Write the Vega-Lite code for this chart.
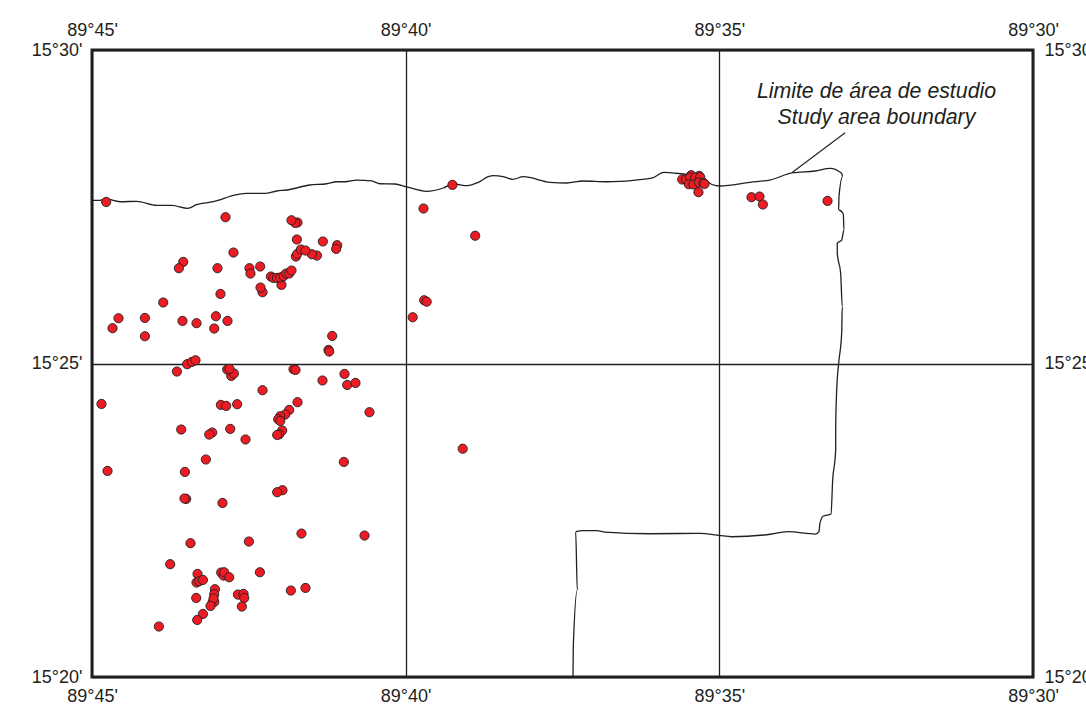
{
"$schema":"https://vega.github.io/schema/vega-lite/v6.json",
"width":941,"height":627,
"autosize":{"type":"none"},
"padding":{"left":92,"top":50,"right":53,"bottom":34},
"background":"white",
"config":{"view":{"stroke":"#231f20","strokeWidth":3,"fill":"white"},
"axis":{"title":null,"domain":false,"ticks":false,"labelFont":"Liberation Sans","labelFontSize":18,"labelColor":"#231f20","labelOverlap":false,"labelFlush":false,"labelBound":false,"grid":false}},
"datasets":{
"boundary":[
{"s":1,"lon":44.997,"lat":27.611},{"s":2,"lon":44.88,"lat":27.611},{"s":3,"lon":44.801,"lat":27.636},{"s":4,"lon":44.562,"lat":27.588},{"s":5,"lon":44.295,"lat":27.595},{"s":6,"lon":43.977,"lat":27.531},{"s":7,"lon":43.738,"lat":27.531},{"s":8,"lon":43.483,"lat":27.483},{"s":9,"lon":43.339,"lat":27.541},{"s":10,"lon":43.074,"lat":27.588},{"s":11,"lon":42.701,"lat":27.7},{"s":12,"lon":42.542,"lat":27.722},{"s":13,"lon":42.25,"lat":27.722},{"s":14,"lon":42.064,"lat":27.759},{"s":15,"lon":41.905,"lat":27.775},{"s":16,"lon":41.533,"lat":27.855},{"s":17,"lon":41.267,"lat":27.875},{"s":18,"lon":41.107,"lat":27.907},{"s":19,"lon":40.975,"lat":27.907},{"s":20,"lon":40.789,"lat":27.934},{"s":21,"lon":40.55,"lat":27.919},{"s":22,"lon":40.417,"lat":27.875},{"s":23,"lon":40.178,"lat":27.871},{"s":24,"lon":40.003,"lat":27.828},{"s":25,"lon":39.673,"lat":27.754},{"s":26,"lon":39.408,"lat":27.807},{"s":27,"lon":39.249,"lat":27.871},{"s":28,"lon":39.026,"lat":27.844},{"s":29,"lon":38.85,"lat":27.898},{"s":30,"lon":38.691,"lat":27.987},{"s":31,"lon":38.611,"lat":28.003},{"s":32,"lon":38.452,"lat":27.987},{"s":33,"lon":38.302,"lat":27.946},{"s":34,"lon":38.133,"lat":27.987},{"s":35,"lon":37.707,"lat":27.898},{"s":36,"lon":37.441,"lat":27.887},{"s":37,"lon":37.177,"lat":27.919},{"s":38,"lon":36.804,"lat":27.907},{"s":39,"lon":36.38,"lat":27.93},{"s":40,"lon":36.061,"lat":27.971},{"s":41,"lon":35.901,"lat":28.057},{"s":42,"lon":35.583,"lat":28.03},{"s":43,"lon":35.316,"lat":27.998},{"s":44,"lon":35.125,"lat":27.863},{"s":45,"lon":34.998,"lat":27.839},{"s":46,"lon":34.519,"lat":27.898},{"s":47,"lon":34.201,"lat":27.934},{"s":48,"lon":33.834,"lat":28.051},{"s":49,"lon":33.483,"lat":28.078},{"s":50,"lon":33.244,"lat":28.121},{"s":51,"lon":33.058,"lat":28.041},{"s":52,"lon":33.042,"lat":27.987},{"s":53,"lon":33.101,"lat":27.668},{"s":54,"lon":33.106,"lat":27.456},{"s":55,"lon":33.032,"lat":27.392},{"s":56,"lon":33.021,"lat":27.137},{"s":57,"lon":33.058,"lat":26.977},{"s":58,"lon":33.128,"lat":26.925},{"s":59,"lon":33.128,"lat":26.765},{"s":60,"lon":33.074,"lat":26.446},{"s":61,"lon":33.048,"lat":25.914},{"s":62,"lon":33.058,"lat":25.489},{"s":63,"lon":33.106,"lat":25.011},{"s":64,"lon":33.137,"lat":24.585},{"s":65,"lon":33.153,"lat":24.0},{"s":66,"lon":33.153,"lat":23.628},{"s":67,"lon":33.201,"lat":23.149},{"s":68,"lon":33.228,"lat":22.607},{"s":69,"lon":33.351,"lat":22.575},{"s":70,"lon":33.404,"lat":22.459},{"s":71,"lon":33.42,"lat":22.325},{"s":72,"lon":33.472,"lat":22.288},{"s":73,"lon":33.909,"lat":22.325},{"s":74,"lon":34.253,"lat":22.277},{"s":75,"lon":34.811,"lat":22.245},{"s":76,"lon":35.009,"lat":22.267},{"s":77,"lon":35.316,"lat":22.299},{"s":78,"lon":36.113,"lat":22.293},{"s":79,"lon":36.831,"lat":22.32},{"s":80,"lon":36.963,"lat":22.341},{"s":81,"lon":37.202,"lat":22.341},{"s":82,"lon":37.298,"lat":22.325},{"s":83,"lon":37.272,"lat":21.395},{"s":84,"lon":37.336,"lat":20.491},{"s":85,"lon":37.341,"lat":20.0}],
"leader":[{"s":1,"lon":33.834,"lat":28.051},{"s":2,"lon":32.995,"lat":28.68}],
"labels":[{"lon":32.495,"lat":29.338,"t":"Limite de área de estudio"},{"lon":32.495,"lat":28.923,"t":"Study area boundary"}],
"sites":[
{"lon":44.785,"lat":27.588},{"lon":42.883,"lat":27.344},{"lon":41.735,"lat":27.26},{"lon":41.772,"lat":27.253},{"lon":41.831,"lat":27.296},{"lon":41.745,"lat":26.989},{"lon":41.331,"lat":26.957},{"lon":41.103,"lat":26.898},{"lon":41.119,"lat":26.839},{"lon":42.756,"lat":26.781},{"lon":41.426,"lat":26.733},{"lon":41.506,"lat":26.754},{"lon":41.761,"lat":26.717},{"lon":41.74,"lat":26.759},{"lon":41.681,"lat":26.829},{"lon":41.608,"lat":26.813},{"lon":43.557,"lat":26.631},{"lon":43.626,"lat":26.531},{"lon":43.011,"lat":26.531},{"lon":42.501,"lat":26.531},{"lon":42.485,"lat":26.446},{"lon":42.33,"lat":26.558},{"lon":41.991,"lat":26.265},{"lon":42.159,"lat":26.398},{"lon":42.118,"lat":26.376},{"lon":42.064,"lat":26.376},{"lon":42.011,"lat":26.383},{"lon":41.959,"lat":26.403},{"lon":41.916,"lat":26.446},{"lon":41.868,"lat":26.446},{"lon":41.831,"lat":26.494},{"lon":42.293,"lat":26.148},{"lon":42.325,"lat":26.223},{"lon":42.963,"lat":26.121},{"lon":43.876,"lat":25.984},{"lon":44.589,"lat":25.733},{"lon":44.684,"lat":25.574},{"lon":44.168,"lat":25.738},{"lon":44.168,"lat":25.446},{"lon":43.569,"lat":25.69},{"lon":43.345,"lat":25.654},{"lon":43.036,"lat":25.765},{"lon":42.851,"lat":25.69},{"lon":43.063,"lat":25.569},{"lon":41.182,"lat":25.451},{"lon":41.241,"lat":25.228},{"lon":41.23,"lat":25.202},{"lon":43.494,"lat":25.0},{"lon":43.419,"lat":25.036},{"lon":43.361,"lat":25.063},{"lon":43.658,"lat":24.883},{"lon":42.792,"lat":24.813},{"lon":42.856,"lat":24.915},{"lon":42.749,"lat":24.851},{"lon":42.819,"lat":24.925},{"lon":41.799,"lat":24.92},{"lon":41.767,"lat":24.909},{"lon":40.986,"lat":24.845},{"lon":41.337,"lat":24.74},{"lon":40.943,"lat":24.669},{"lon":40.811,"lat":24.701},{"lon":42.293,"lat":24.585},
{"lon":44.86,"lat":24.366},{"lon":42.957,"lat":24.351},{"lon":42.872,"lat":24.335},{"lon":42.697,"lat":24.362},{"lon":41.735,"lat":24.394},{"lon":41.868,"lat":24.271},{"lon":41.932,"lat":24.197},{"lon":42.011,"lat":24.17},{"lon":42.043,"lat":24.122},{"lon":42.011,"lat":24.095},{"lon":40.588,"lat":24.234},{"lon":43.589,"lat":23.958},{"lon":43.095,"lat":23.91},{"lon":43.143,"lat":23.878},{"lon":42.808,"lat":23.968},{"lon":42.564,"lat":23.799},{"lon":41.979,"lat":23.942},{"lon":42.027,"lat":23.883},{"lon":42.059,"lat":23.872},{"lon":43.196,"lat":23.48},{"lon":40.996,"lat":23.441},{"lon":44.764,"lat":23.298},{"lon":43.53,"lat":23.282},{"lon":41.975,"lat":22.99},{"lon":42.059,"lat":22.958},{"lon":43.51,"lat":22.851},{"lon":43.537,"lat":22.858},{"lon":42.931,"lat":22.787},
{"lon":43.441,"lat":22.145},{"lon":42.51,"lat":22.172},{"lon":41.672,"lat":22.299},{"lon":40.667,"lat":22.267},{"lon":43.765,"lat":21.81},{"lon":43.329,"lat":21.655},{"lon":43.345,"lat":21.518},{"lon":43.302,"lat":21.539},{"lon":43.243,"lat":21.559},{"lon":42.952,"lat":21.677},{"lon":42.915,"lat":21.629},{"lon":42.904,"lat":21.682},{"lon":42.824,"lat":21.602},{"lon":42.335,"lat":21.682},{"lon":43.052,"lat":21.411},{"lon":43.063,"lat":21.331},{"lon":43.35,"lat":21.272},{"lon":43.09,"lat":21.199},{"lon":43.063,"lat":21.208},{"lon":43.074,"lat":21.263},{"lon":43.122,"lat":21.144},{"lon":42.685,"lat":21.326},{"lon":42.596,"lat":21.336},{"lon":42.585,"lat":21.272},{"lon":42.622,"lat":21.135},{"lon":41.841,"lat":21.39},{"lon":41.608,"lat":21.432},{"lon":43.243,"lat":21.017},{"lon":43.334,"lat":20.921},{"lon":43.945,"lat":20.816},
{"lon":35.603,"lat":27.946},{"lon":35.544,"lat":27.946},{"lon":35.46,"lat":28.014},{"lon":35.476,"lat":27.978},{"lon":35.332,"lat":28.003},{"lon":35.396,"lat":27.978},{"lon":35.316,"lat":27.982},{"lon":35.497,"lat":27.871},{"lon":35.423,"lat":27.866},{"lon":35.337,"lat":27.898},{"lon":35.264,"lat":27.891},{"lon":35.248,"lat":27.875},{"lon":35.344,"lat":27.743},{"lon":34.499,"lat":27.663},{"lon":34.371,"lat":27.674},{"lon":34.317,"lat":27.547},{"lon":33.287,"lat":27.604},{"lon":39.265,"lat":27.86},{"lon":39.727,"lat":27.483},{"lon":38.903,"lat":27.049},{"lon":39.716,"lat":26.02},{"lon":39.676,"lat":25.997},{"lon":39.899,"lat":25.749},{"lon":39.102,"lat":23.652}]
},
"layer":[
{"data":{"name":"boundary"},
"mark":{"type":"line","color":"#231f20","strokeWidth":1.3,"interpolate":"monotone","clip":true,"xOffset":0.5,"yOffset":0.5},
"encoding":{"order":{"field":"s","type":"quantitative"},
"x":{"field":"lon","type":"quantitative","scale":{"domain":[45,30],"nice":false,"zero":false},
"axis":{"orient":"bottom","values":[45,40,35,30],"grid":true,"gridColor":"#231f20","gridWidth":1.3,"gridOpacity":1,"labelPadding":10,"labelExpr":"'89°' + datum.value + \"'\""}},
"y":{"field":"lat","type":"quantitative","scale":{"domain":[20,30],"nice":false,"zero":false},
"axis":{"orient":"left","values":[20,25,30],"grid":true,"gridColor":"#231f20","gridWidth":1.3,"gridOpacity":1,"labelPadding":10,"labelExpr":"'15°' + datum.value + \"'\""}}}},
{"data":{"name":"leader"},
"mark":{"type":"line","color":"#231f20","strokeWidth":1.1},
"encoding":{"order":{"field":"s","type":"quantitative"},
"x":{"field":"lon","type":"quantitative","scale":{"domain":[45,30],"nice":false,"zero":false},
"axis":{"orient":"top","values":[45,40,35,30],"labelPadding":11,"labelExpr":"'89°' + datum.value + \"'\""}},
"y":{"field":"lat","type":"quantitative","scale":{"domain":[20,30],"nice":false,"zero":false},
"axis":{"orient":"right","values":[20,25,30],"labelPadding":11,"labelExpr":"'15°' + datum.value + \"'\""}}}},
{"data":{"name":"sites"},
"mark":{"type":"point","shape":"circle","filled":true,"size":85,"fill":"#ed1c24","fillOpacity":1,"stroke":"#231f20","strokeWidth":0.9,"strokeOpacity":1,"xOffset":0.7,"yOffset":0.7},
"encoding":{"x":{"field":"lon","type":"quantitative","axis":null},"y":{"field":"lat","type":"quantitative","axis":null}}},
{"data":{"name":"labels"},
"mark":{"type":"text","font":"Liberation Sans","fontStyle":"italic","fontSize":21.3,"color":"#231f20","align":"center","baseline":"middle"},
"encoding":{"x":{"field":"lon","type":"quantitative","axis":null},"y":{"field":"lat","type":"quantitative","axis":null},"text":{"field":"t","type":"nominal"}}}
],
"resolve":{"axis":{"x":"independent","y":"independent"}}
}
